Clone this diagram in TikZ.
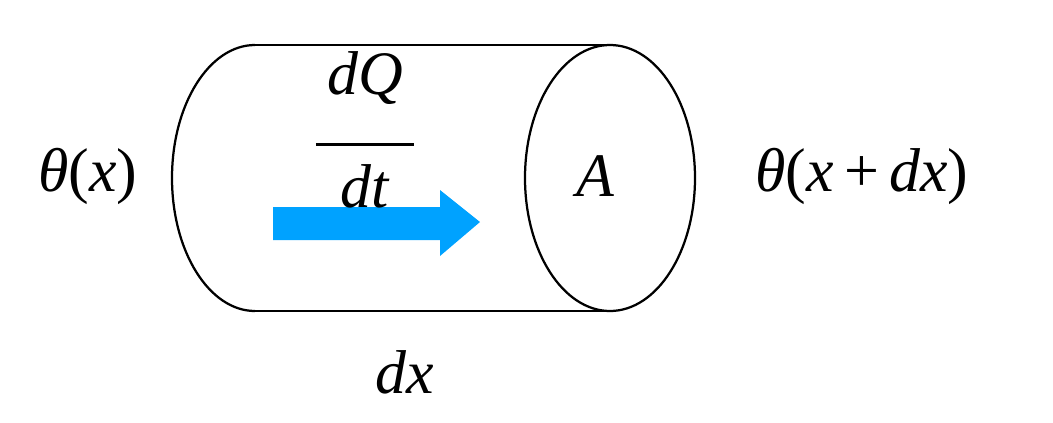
\documentclass[tikz,border=0pt]{standalone}
\usepackage{fontspec}
\setmainfont{Liberation Serif}
\begin{document}
\begin{tikzpicture}[x=0.025cm,y=-0.025cm,
  lbl/.style={inner sep=0pt,font=\fontsize{44}{50}\selectfont},
  edge/.style={line width=1.6pt,black}]
\useasboundingbox (0,0) rectangle (1053,422);
\coordinate (tl) at (255,45);
\coordinate (bl) at (255,311);
\coordinate (tr) at (610,45);
\coordinate (br) at (610,311);
\draw[edge] (tl) arc[start angle=270,end angle=90,x radius=83,y radius=133];
\draw[edge] (tl) -- (tr);
\draw[edge] (bl) -- (br);
\draw[edge] (610,178) ellipse[x radius=85,y radius=133];
\fill[color={rgb,255:red,0;green,162;blue,255}] (273,207) -- (440,207) -- (440,190) -- (480,222) -- (440,256) -- (440,240) -- (273,240) -- cycle;
\node[lbl] (tx) at (88,176) {\textit{θ}(\textit{x})};
\node[lbl] (txdx) at (862,176) {\textit{θ}(\textit{x}\,+\,\textit{dx})};
\node[lbl] (a) at (595,176) {\textit{A}};
\node[lbl,align=center] (q) at (365,130) {\textit{dQ}\\[-14pt]\rule{70pt}{1.5pt}\\[-6pt]\textit{dt}};
\node[lbl] (dx) at (405,372) {\textit{dx}};
\end{tikzpicture}
\end{document}
